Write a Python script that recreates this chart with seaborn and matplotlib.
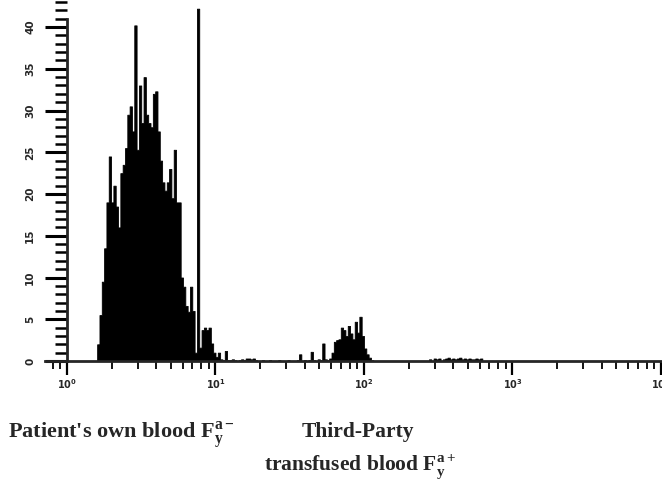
import matplotlib
matplotlib.use("Agg")
import matplotlib.pyplot as plt
import matplotlib.ticker as mticker
import numpy as np
import seaborn as sns

# 256 log-channels over 4 decades (10^0 .. 10^4), 64 channels per decade
n_channels = 256
n_decades = 4

# Patient's own blood (Fy a-), channels 12..69
own_start = 12
own_counts = [0, 2, 5.5, 9.5, 13.5, 19, 24.5, 19, 21, 18.5,
              16, 22.5, 23.5, 25.5, 29.5, 30.5, 27.5, 40.2, 25.3, 33,
              28.5, 34, 29.5, 28.5, 28, 32, 32.3, 27.5, 24, 21.4,
              20.4, 21.4, 23, 19.5, 25.3, 19, 19, 10, 8.9, 6.6,
              5.9, 8.9, 6, 1, 42.2, 1.6, 3.7, 4, 3.7, 4,
              2.1, 1, 0.5, 1, 0.2, 0.1, 1.2, 0.1]

# low background between the two populations, channels 70..99
gap_start = 70
gap_counts = [0.1, 0.2, 0.1, 0, 0.1, 0.2, 0.1, 0.3, 0.3, 0.2,
              0.3, 0.1, 0, 0, 0.1, 0, 0, 0.1, 0, 0,
              0, 0.1, 0, 0, 0, 0.1, 0, 0, 0, 0.1]

# Third-party transfused blood (Fy a+), channels 100..131
third_start = 100
third_counts = [0.8, 0, 0.1, 0, 0.1, 1.1, 0.1, 0, 0.2, 0.1,
                2.1, 0.2, 0.1, 0.3, 1.0, 2.3, 2.5, 2.6, 4.0, 3.7,
                3.0, 4.2, 3.3, 2.6, 4.7, 3.4, 5.3, 3.0, 1.5, 0.8,
                0.4, 0.1]

# faint noise near 10^3, channels 156..178
noise_start = 156
noise_counts = [0.2, 0, 0.3, 0.2, 0.3, 0, 0.2, 0.3, 0.4, 0.2,
                0.3, 0.2, 0.3, 0.4, 0.2, 0.3, 0.2, 0.3, 0.2, 0.2,
                0.3, 0.2, 0.3]

x_labels = [r"$\mathbf{10^{0}}$", r"$\mathbf{10^{1}}$", r"$\mathbf{10^{2}}$",
            r"$\mathbf{10^{3}}$", r"$\mathbf{10^{4}}$"]
y_ticks = [0, 5, 10, 15, 20, 25, 30, 35, 40]

counts = np.zeros(n_channels)
for start, seg in [(own_start, own_counts), (gap_start, gap_counts),
                   (third_start, third_counts), (noise_start, noise_counts)]:
    counts[start:start + len(seg)] = seg
channel_pos = 10 ** ((np.arange(n_channels) + 0.5) * n_decades / n_channels)

sns.set_style("ticks")
plt.rcParams["font.family"] = ["DejaVu Sans"]
plt.rcParams["mathtext.fontset"] = "dejavusans"

fig = plt.figure(figsize=(6.62, 4.99), dpi=100)
ax = fig.add_axes([45 / 662, 138 / 499, 616 / 662, 359 / 499])

sns.histplot(x=channel_pos, weights=counts, bins=n_channels, binrange=(0, n_decades),
             log_scale=True, element="step", fill=True, color="black",
             alpha=1, linewidth=0.6, ax=ax)

ax.set_xlim(10 ** -0.148, 10 ** 4)
ax.set_ylim(0, 43)
ax.set_xlabel("")
ax.set_ylabel("")

for s in ["top", "right"]:
    ax.spines[s].set_visible(False)
ax.spines["left"].set_position(("data", 1))
ax.spines["left"].set_bounds(0, 41)
ax.spines["left"].set_linewidth(2)
ax.spines["bottom"].set_linewidth(2)

ax.xaxis.set_major_locator(mticker.FixedLocator([1, 10, 100, 1000, 10000]))
ax.xaxis.set_major_formatter(mticker.FixedFormatter(x_labels))
ax.xaxis.set_minor_locator(mticker.LogLocator(base=10, subs=np.arange(2, 10)))
ax.xaxis.set_minor_formatter(mticker.NullFormatter())
ax.yaxis.set_major_locator(mticker.FixedLocator(y_ticks))
ax.yaxis.set_minor_locator(mticker.MultipleLocator(1))

ax.tick_params(axis="x", which="major", length=10, width=1.6, labelsize=7, pad=2, color="black")
ax.tick_params(axis="x", which="minor", length=6, width=1.3, color="black")
ax.tick_params(axis="y", which="major", length=16, width=2.2, labelsize=7.5, pad=7,
               labelrotation=90, color="black")
ax.tick_params(axis="y", which="minor", length=8.5, width=1.8, color="black")
for lab in ax.get_yticklabels():
    lab.set_fontweight("bold")
    lab.set_va("center")

serif = ["Liberation Serif", "DejaVu Serif"]
plt.rcParams["mathtext.fontset"] = "stix"
fig.text(8 / 662, 1 - 435 / 499, r"Patient's own blood F$_\mathregular{y}^\mathregular{a-}$",
         family=serif, fontsize=16, ha="left", va="center", fontweight="bold")
fig.text(358 / 662, 1 - 432 / 499, "Third-Party", family=serif, fontsize=15.5,
         ha="center", va="center", fontweight="bold")
fig.text(360 / 662, 1 - 467 / 499, r"transfused blood F$_\mathregular{y}^\mathregular{a+}$",
         family=serif, fontsize=15.5, ha="center", va="center", fontweight="bold")

fig.savefig("out.png", dpi=100)
